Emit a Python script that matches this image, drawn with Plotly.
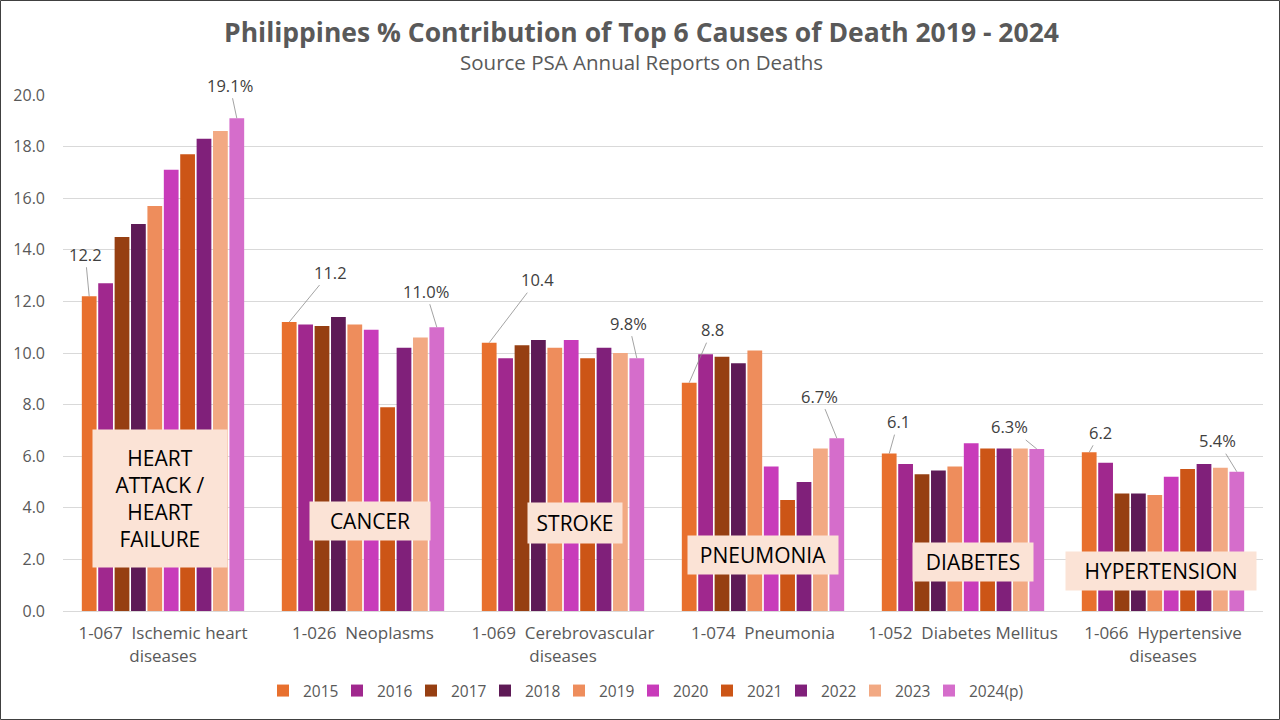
import plotly.graph_objects as go

categories = [
    "1-067  Ischemic heart<br>diseases",
    "1-026  Neoplasms",
    "1-069  Cerebrovascular<br>diseases",
    "1-074  Pneumonia",
    "1-052  Diabetes Mellitus",
    "1-066  Hypertensive<br>diseases",
]
years = ["2015", "2016", "2017", "2018", "2019", "2020", "2021", "2022", "2023", "2024(p)"]

heart = [12.2, 12.7, 14.5, 15.0, 15.7, 17.1, 17.7, 18.3, 18.6, 19.1]
cancer = [11.2, 11.1, 11.05, 11.4, 11.1, 10.9, 7.9, 10.2, 10.6, 11.0]
stroke = [10.4, 9.8, 10.3, 10.5, 10.2, 10.5, 9.8, 10.2, 10.0, 9.8]
pneumonia = [8.85, 9.95, 9.85, 9.6, 10.1, 5.6, 4.3, 5.0, 6.3, 6.7]
diabetes = [6.1, 5.7, 5.3, 5.45, 5.6, 6.5, 6.3, 6.3, 6.3, 6.28]
hypertension = [6.15, 5.75, 4.55, 4.55, 4.5, 5.2, 5.5, 5.7, 5.55, 5.4]

causes = [heart, cancer, stroke, pneumonia, diabetes, hypertension]
box_labels = ["HEART<br>ATTACK /<br>HEART<br>FAILURE", "CANCER", "STROKE",
              "PNEUMONIA", "DIABETES", "HYPERTENSION"]

colors = ["#E8702E", "#A0288E", "#963F12", "#5E1A56", "#EE8D5C",
          "#C83BBA", "#CC5516", "#80207A", "#F2A983", "#D56DCB"]

FONT = "Open Sans, Arial, sans-serif"

fig = go.Figure()
for k, yr in enumerate(years):
    fig.add_trace(go.Bar(
        name=yr, x=categories, y=[c[k] for c in causes],
        marker=dict(color=colors[k], line=dict(width=0)),
    ))
# invisible spacer entry so the last legend label is not clipped
fig.add_trace(go.Scatter(name=" ", x=[categories[0]], y=[None], mode="markers",
                         marker=dict(color="rgba(0,0,0,0)"), hoverinfo="skip"))

n = len(years)
group_w = 0.82
slot = group_w / n


def bar_x(i, k):
    return i - group_w / 2 + (k + 0.5) * slot


annotations = []
first_off = [(-4, -42), (41, -50), (48, -63), (23, -53), (9, -32), (11, -20)]
last_off = [(-7, -33), (-11, -36), (-8, -35), (-17, -42), (-27, -22), (-19, -31)]
for i, c in enumerate(causes):
    ax, ay = first_off[i]
    annotations.append(dict(x=bar_x(i, 0), y=c[0], xref="x", yref="y",
                            text=f"{c[0]:.1f}", showarrow=True, arrowhead=0,
                            arrowwidth=0.8, arrowcolor="#8C8C8C", ax=ax, ay=ay,
                            font=dict(size=16.5, color="#404040")))
    ax, ay = last_off[i]
    annotations.append(dict(x=bar_x(i, n - 1), y=c[-1], xref="x", yref="y",
                            text=f"{c[-1]:.1f}%", showarrow=True, arrowhead=0,
                            arrowwidth=0.8, arrowcolor="#8C8C8C", ax=ax, ay=ay,
                            font=dict(size=16.5, color="#404040")))

box_pos = [(-0.015, 4.36), (1.035, 3.5), (2.06, 3.4), (3.0, 2.17), (4.05, 1.9), (4.99, 1.55)]
box_size = [(128, 131), (114, 32), (88, 34), (144, 32), (114, 32), (184, 32)]
for (bx, by), (bw, bh), lbl in zip(box_pos, box_size, box_labels):
    annotations.append(dict(x=bx, y=by, xref="x", yref="y", text=lbl,
                            showarrow=False, bgcolor="#FBE3D6",
                            width=bw, height=bh, align="center", valign="middle",
                            borderpad=3, font=dict(size=21, color="#000000")))

cx = (641 - 63) / 1200
annotations.append(dict(x=cx, xref="paper", y=(611 - 32) / 516, yref="paper",
                        text="<b>Philippines % Contribution of Top 6 Causes of Death 2019 - 2024</b>",
                        showarrow=False, xanchor="center", yanchor="middle",
                        font=dict(size=26.5, color="#595959")))
annotations.append(dict(x=cx, xref="paper", y=(611 - 62) / 516, yref="paper",
                        text="Source PSA Annual Reports on Deaths",
                        showarrow=False, xanchor="center", yanchor="middle",
                        font=dict(size=20.5, color="#595959")))

fig.update_layout(
    width=1280, height=720,
    margin=dict(l=63, r=17, t=95, b=109),
    paper_bgcolor="white", plot_bgcolor="white",
    font=dict(family=FONT, color="#595959"),
    barmode="group", bargap=0.18, bargroupgap=0.1,
    annotations=annotations,
    showlegend=True,
    legend=dict(orientation="h", x=(263 - 63) / 1200, xanchor="left", y=-0.155,
                yanchor="middle", font=dict(size=15.5, color="#595959"),
                itemwidth=30, traceorder="normal",
                entrywidth=29, entrywidthmode="pixels"),
    shapes=[dict(type="rect", xref="paper", yref="paper",
                 x0=(0.5 - 63) / 1200, x1=(1279.5 - 63) / 1200,
                 y0=(611 - 719.5) / 516, y1=(611 - 0.5) / 516,
                 line=dict(color="#404040", width=1), fillcolor="rgba(0,0,0,0)")],
)
fig.update_yaxes(range=[0, 20], dtick=2, tickformat=".1f", showgrid=True,
                 gridcolor="#D9D9D9", gridwidth=1, zeroline=False, showline=False,
                 ticks="", tickfont=dict(size=16, color="#595959"), ticklabelstandoff=17)
fig.update_xaxes(showline=True, linecolor="#D9D9D9", linewidth=1, ticks="",
                 tickfont=dict(size=17, color="#595959"), ticklabelstandoff=7)

fig.write_html("out.html", config={"displayModeBar": False},
               post_script="document.body.style.margin='0px';")
